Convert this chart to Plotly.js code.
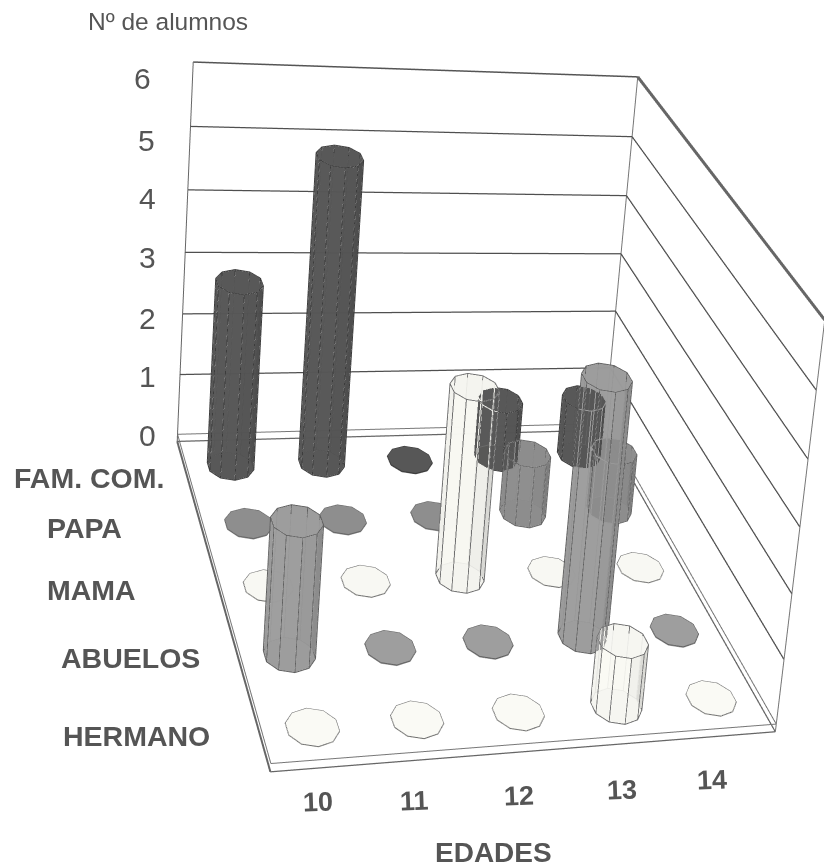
<!DOCTYPE html>
<html><head><meta charset="utf-8">
<script src="https://cdn.plot.ly/plotly-3.0.1.min.js"></script>
<style>html,body{margin:0;padding:0;width:824px;height:868px;overflow:hidden;background:#fff}
#g{position:absolute;left:-22px;top:-902px;width:3000px;height:2443px}</style>
</head><body><div id="g"></div>
<script>
// data
const ages = [10, 11, 12, 13, 14];
const seriesNames = ['HERMANO', 'ABUELOS', 'MAMA', 'PAPA', 'FAM. COM.'];
const hermano = [0, 0, 0, 1, 0];
const abuelos = [2, 0, 0, 4, 0];
const mama = [0, 0, 3, 0, 0];
const papa = [0, 0, 0, 1, 1];
const famCom = [3, 5, 0, 1, 1];
const values = [hermano, abuelos, mama, papa, famCom];
const fills = ['#f5f5f0', '#9b9b9b', '#f3f3ee', '#8b8b8b', '#555555'];
const edges = ['#6f6f6f', '#5f5f5f', '#6f6f6f', '#666666', '#3c3c3c'];
const zTicks = ['0', '1', '2', '3', '4', '5', '6'];

const W = 3000, H = 2443, OX = -22, OY = -902;
const R = 0.25, SIDES = 10, FLAT = 0.015;
const x0 = 9.53, x1 = 14.53, y0 = -0.4, y1 = 4.6, zb = -0.12, zt = 6;
const PAD = 0.05;
const XR = [x0 - PAD, x1 + PAD], YR = [y0 - PAD, y1 + PAD], ZR = [zb - PAD, zt + PAD];

function shade(hex, k) {
  const n = parseInt(hex.slice(1), 16);
  const c = [n >> 16, (n >> 8) & 255, n & 255].map(v => Math.max(0, Math.min(255, Math.round(v * k))));
  return 'rgb(' + c.join(',') + ')';
}
const traces = [];
function line(xs, ys, zs, color, width) {
  traces.push({type: 'scatter3d', mode: 'lines', x: xs, y: ys, z: zs, line: {color, width}, hoverinfo: 'skip', showlegend: false});
}
// box frame and wall grid
line([x0, x1, x1, x0, x0], [y0, y0, y1, y1, y0], [zb, zb, zb, zb, zb], '#666', 2.5);
line([x0, x1, x1, x0, x0], [y0, y0, y1, y1, y0], [0, 0, 0, 0, 0], '#777', 2);
line([x0, x0], [y1, y1], [zb, zt], '#666', 2);
line([x1, x1], [y1, y1], [zb, zt], '#777', 2);
line([x1, x1], [y0, y0], [zb, zt], '#777', 2);
line([x0, x0], [y0, y1], [zb, zb], '#666', 4);
line([x0, x1], [y1, y1], [zt, zt], '#555', 3);
line([x1, x1], [y1, y0], [zt, zt], '#666', 6);
zTicks.slice(1, 6).forEach(t => {
  const z = Number(t);
  line([x0, x1, x1], [y1, y1, y0], [z, z, z], '#4f4f4f', 2.5);
});

// cylinders
values.forEach((row, s) => {
  row.forEach((v, i) => {
    const top = v > 0 ? v : FLAT, cx = ages[i], cy = s;
    const X = [], Y = [], Z = [], I = [], J = [], K = [], F = [];
    const ex = [], ey = [], ez = [];
    for (let a = 0; a < SIDES; a++) {
      const t = (a + 0.5) / SIDES * 2 * Math.PI;
      const px = cx + R * Math.cos(t), py = cy + R * Math.sin(t);
      X.push(px, px); Y.push(py, py); Z.push(0, top);
    }
    for (let a = 0; a < SIDES; a++) {
      const b = (a + 1) % SIDES, p = 2 * a, q = 2 * b;
      I.push(p, p); J.push(q, q + 1); K.push(q + 1, p + 1);
      const k = 0.94 + 0.1 * Math.cos((a + 1) / SIDES * 2 * Math.PI + 2.2);
      F.push(shade(fills[s], k), shade(fills[s], k));
      if (v > 0) { ex.push(X[p], X[p + 1], null); ey.push(Y[p], Y[p + 1], null); ez.push(0, top, null); }
    }
    for (let a = 1; a < SIDES - 1; a++) {
      I.push(0); J.push(2 * a); K.push(2 * a + 2); F.push(shade(fills[s], 1));
      I.push(1); J.push(2 * a + 1); K.push(2 * a + 3); F.push(shade(fills[s], 1.02));
    }
    traces.push({type: 'mesh3d', x: X, y: Y, z: Z, i: I, j: J, k: K, facecolor: F, flatshading: true,
      opacity: v > 0 ? 0.88 : 1, lighting: {ambient: 1, diffuse: 0, specular: 0, fresnel: 0, roughness: 1},
      hoverinfo: 'skip', showscale: false});
    for (let a = 0; a <= SIDES; a++) { const p = 2 * (a % SIDES) + 1; ex.push(X[p]); ey.push(Y[p]); ez.push(top); }
    ex.push(null); ey.push(null); ez.push(null);
    if (v > 0) for (let a = 0; a <= SIDES; a++) { const p = 2 * (a % SIDES); ex.push(X[p]); ey.push(Y[p]); ez.push(0); }
    traces.push({type: 'scatter3d', mode: 'lines', x: ex, y: ey, z: ez, connectgaps: false,
      line: {color: edges[s], width: 2}, hoverinfo: 'skip', showlegend: false});
  });
});

// page-pixel helper for labels
const label = (text, px, py, size, bold, angle) => ({
  xref: 'paper', yref: 'paper', x: (px - OX) / W, y: 1 - (py - OY) / H, text: bold ? '<b>' + text + '</b>' : text,
  showarrow: false, xanchor: 'center', yanchor: 'middle', textangle: angle || 0,
  font: {family: 'Liberation Sans, Arial, sans-serif', size, color: '#555555'}
});
const zPos = [[147, 435], [147, 377], [147, 318], [147, 258], [147, 198], [146, 140], [142, 79]];
const agePos = [[318, 802], [414, 801], [519, 796], [622, 790], [712, 780]];
const rowPos = [[136, 736], [130, 658], [91, 590], [84, 528], [89, 478]];
const annotations = [
  label('Nº de alumnos', 168, 21, 24.5, false),
  label('EDADES', 493, 852, 28, true)
];
zTicks.forEach((t, i) => annotations.push(label(t, zPos[i][0], zPos[i][1], 30, false)));
ages.forEach((t, i) => annotations.push(label(String(t), agePos[i][0], agePos[i][1], 27, true, -2)));
seriesNames.forEach((t, i) => annotations.push(label(t, rowPos[i][0], rowPos[i][1], 28.5, true)));

const hidden = {showgrid: false, zeroline: false, showline: false, showticklabels: false, ticks: '', showspikes: false,
  showbackground: false, title: {text: ''}};
const layout = {
  width: W, height: H, margin: {l: 0, r: 0, t: 0, b: 0}, paper_bgcolor: '#fff', showlegend: false, annotations,
  scene: {
    domain: {x: [0, 1], y: [0, 1]}, bgcolor: '#fff', aspectmode: 'manual',
    aspectratio: {x: 1 * (5 + 2 * PAD) / 5, y: 1.564 * (5 + 2 * PAD) / 5, z: 0.943 * (zt - zb + 2 * PAD) / (zt - zb)},
    camera: {eye: {x: -1.351, y: -6.138, z: 2.680}, center: {x: 2.07, y: -0.71, z: 0.43}, up: {x: 0.008, y: 0.379, z: 0.925},
      projection: {type: 'perspective'}},
    xaxis: Object.assign({}, hidden, {range: XR}),
    yaxis: Object.assign({}, hidden, {range: YR}),
    zaxis: Object.assign({}, hidden, {range: ZR})
  }
};
Plotly.newPlot('g', traces, layout, {displayModeBar: false});
</script></body></html>
